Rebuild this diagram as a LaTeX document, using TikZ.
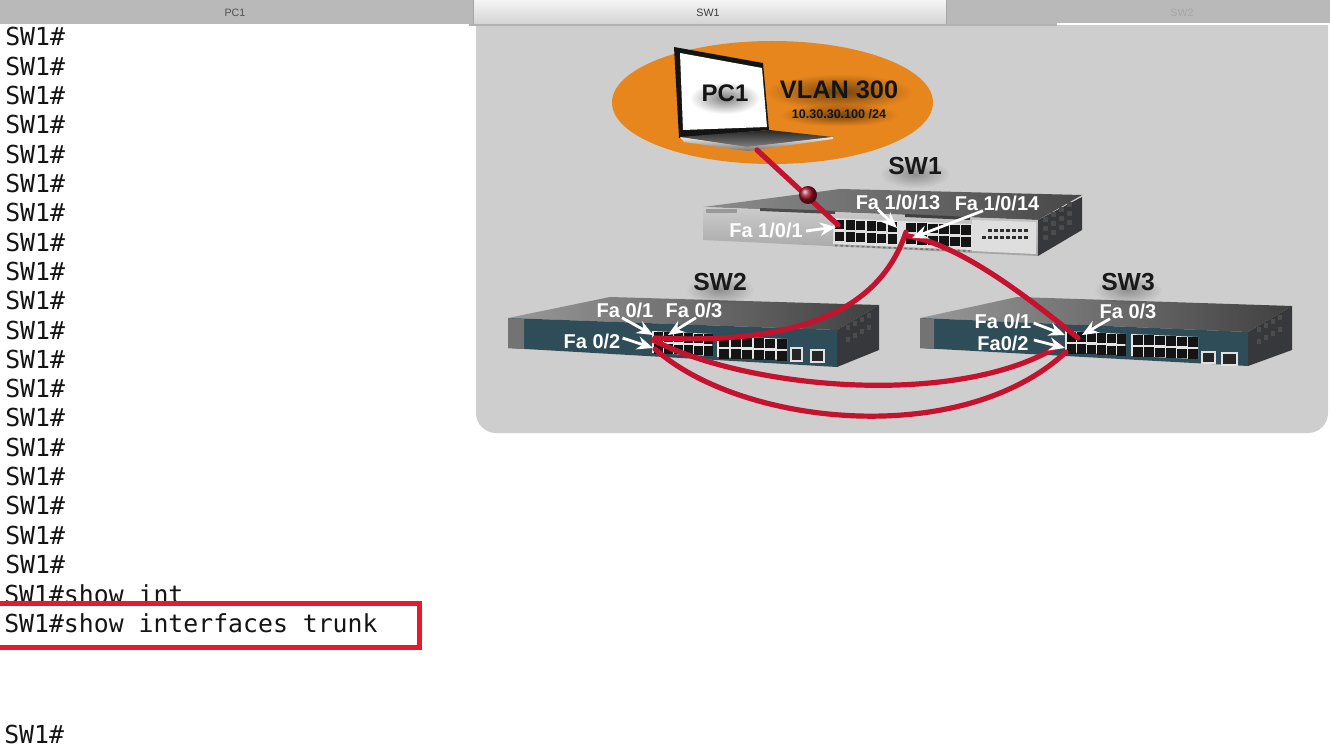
\documentclass[tikz,border=0pt]{standalone}
\usepackage{fontspec}
\setmainfont{Liberation Sans}
\newfontfamily\termfont{DejaVu Sans Mono}
\usetikzlibrary{arrows.meta,fadings}
\tikzfading[name=softedge,inner color=transparent!0,outer color=transparent!100]
\definecolor{panelgray}{HTML}{CECECE}
\definecolor{tabgray}{HTML}{B9B9B9}
\definecolor{vlanorange}{HTML}{E8861E}
\definecolor{cablered}{HTML}{C4122F}
\definecolor{boxred}{HTML}{E8192C}
\definecolor{teal1}{HTML}{2E4D59}
\definecolor{sidegray}{HTML}{37383B}
\tikzset{
  termline/.style={anchor=base west,inner sep=0pt,font=\termfont\fontsize{18.6}{20}\selectfont,text=black!92},
  tablabel/.style={inner sep=0pt,font=\fontsize{8}{9}\selectfont},
  swname/.style={inner sep=0pt,font=\bfseries\fontsize{18.5}{22}\selectfont,text=black!90},
  portlabel/.style={inner sep=0pt,font=\bfseries\fontsize{15}{17}\selectfont,text=white},
  cable/.style={draw=cablered,line width=3.9pt,line cap=round},
  callout/.style={draw=white,line width=2.1pt,-{Stealth[length=12pt,width=10pt]}},
  softshadow/.style={fill=black,opacity=.5,path fading=softedge},
  softshadowB/.style={fill=black,opacity=.3,path fading=softedge},
}
% \portrows{x0}{y0}{columns}{pitch}{rows}{slope}
\newcommand{\portrows}[6]{%
  \foreach \cc in {1,...,#3}{\foreach \rr in {1,...,#5}{%
    \pgfmathsetmacro{\px}{#1+(\cc-1)*#4}%
    \pgfmathsetmacro{\py}{#2+(\rr-1)*12+(\cc-1)*#4*#6}%
    \fill[black!92] (\px,\py) rectangle ++(#4-1.5,9.5);
  }}}
\begin{document}
\begin{tikzpicture}[x=0.75pt,y=-0.75pt]
\useasboundingbox (0,0) rectangle (1330,752);
\fill[white] (0,0) rectangle (1330,752);
% tab bar
\fill[tabgray] (0,0) rectangle (473,24);
\fill[tabgray] (946,0) rectangle (1330,24);
\shade[top color=white!96!black,bottom color=black!17] (473,0) rectangle (946,24);
\draw[black!35,line width=.6pt] (473,0) -- (473,24);
\draw[black!35,line width=.6pt] (946,0) -- (946,24);
\node[tablabel,text=black!68] (tabpc) at (235,13) {PC1};
\node[tablabel,text=black!78] (tabsw1) at (708,13) {SW1};
\node[tablabel,text=black!35] (tabsw2) at (1182,13) {SW2};
% panel
\fill[panelgray] (476,25) -- (1328,25) -- (1328,413) arc[start angle=0,end angle=90,radius=20] -- (496,433) arc[start angle=90,end angle=180,radius=20] -- cycle;
\draw[black!30,line width=.8pt] (469,25) -- (1057,25);
\draw[white,line width=1.5pt] (1057,24.5) -- (1330,24.5);
% terminal
\foreach \i in {0,...,18}{\node[termline] (t\i) at (5,46+29.3*\i) {SW1\#};}
\node[termline] (tint) at (4,603) {SW1\#show int};
\node[termline] (ttrunk) at (4,632) {SW1\#show interfaces trunk};
\node[termline] (tlast) at (4,743) {SW1\#};
\draw[boxred,line width=3.75pt] (-5,603.5) rectangle (419.5,647.5);
% VLAN ellipse
\fill[vlanorange] (772.5,102.5) ellipse[x radius=160.5,y radius=61.5];
% laptop
\fill[black!92] (674,47) -- (763,63) -- (769,130) -- (679,138) -- cycle;
\fill[white] (680,53) -- (762,68) -- (767,127) -- (683,130) -- cycle;
\shade[top color=black!85,bottom color=black!50] (680,137) -- (769,130) -- (833,137) -- (747,147) -- cycle;
\shade[top color=black!8,bottom color=black!55] (680,137) -- (747,147) -- (833,137) -- (833,139) -- (748,151) -- (684,142) -- cycle;
\fill[softshadow] (690,82) rectangle (760,114);
\node[inner sep=0pt,font=\bfseries\fontsize{18}{20}\selectfont,text=black!92] (pclabel) at (725,93) {PC1};
\fill[softshadow] (766,74) rectangle (912,110);
\node[inner sep=0pt,font=\bfseries\fontsize{19}{21}\selectfont,text=black!92] (vlan) at (839,90) {VLAN 300};
\fill[softshadow] (780,104) rectangle (898,126);
\node[inner sep=0pt,font=\bfseries\fontsize{9.4}{11}\selectfont,text=black!92] (ip) at (839,114) {10.30.30.100 /24};
% SW1 switch
\shade[left color=black!45,right color=black!72] (703,207) -- (840,189) -- (1082,195) -- (1038,220) -- cycle;
\shade[top color=black!20,bottom color=black!36] (703,207) -- (1038,220) -- (1038,256) -- (703,240) -- cycle;
\fill[sidegray] (1038,220) -- (1082,197) -- (1082,230) -- (1038,256) -- cycle;
\fill[black!13] (972,220) -- (1036,222) -- (1036,254) -- (972,251) -- cycle;
\foreach \k in {0,...,6}{\fill[black!82] (988+\k*6,229.5) rectangle ++(4,3);}
\foreach \k in {0,...,7}{\fill[black!82] (982+\k*6,236.5) rectangle ++(4,3);}
\foreach \k in {0,...,3}{\foreach \m in {0,1,2}{\fill[black!70] (1043+\k*8,217-\k*5+\m*9) rectangle ++(5,5);}}
\fill[black!12] (833,218) -- (972,224) -- (972,250) -- (833,244) -- cycle;
\portrows{835}{220}{6}{10.5}{2}{.04}
\portrows{906}{223}{6}{11}{2}{.04}
\draw[black!55,line width=1.2pt,dash pattern=on 2pt off 2pt] (835,245.5) -- (970,251);
\fill[black!70] (760,208) -- (835,211) -- (835,214) -- (760,211) -- cycle;
\fill[black!75] (905,214) -- (970,217) -- (970,220) -- (905,217) -- cycle;
\fill[black!40] (706,209) rectangle (737,213);
% SW2 switch
\shade[left color=black!40,right color=black!75] (508,318) -- (610,297) -- (879,305) -- (837,330) -- cycle;
\fill[teal1] (508,318) -- (837,330) -- (837,367) -- (508,348) -- cycle;
\fill[sidegray] (837,330) -- (879,305) -- (879,350) -- (837,367) -- cycle;
\fill[black!55] (508,318) -- (524,319) -- (524,349) -- (508,348) -- cycle;
\foreach \k in {0,...,3}{\foreach \m in {0,1}{\fill[black!70] (846+\k*7,325-\k*4+\m*12) rectangle ++(4,5);}}
\fill[black!10] (652,331) -- (712,334) -- (712,356) -- (652,353) -- cycle;
\fill[black!10] (717,336) -- (787,339) -- (787,360) -- (717,357) -- cycle;
\portrows{654}{332}{6}{10}{2}{.04}
\portrows{719}{337}{6}{11.5}{2}{.04}
\fill[black!12] (790,347) rectangle (803,362);
\fill[black!85] (792,349) rectangle (801,360);
\fill[black!12] (810,349) rectangle (825,363);
\fill[black!85] (812,351) rectangle (823,361);
% SW3 switch
\shade[left color=black!40,right color=black!75] (920,318) -- (1017,297) -- (1292,306) -- (1248,332) -- cycle;
\fill[teal1] (920,318) -- (1248,332) -- (1248,366) -- (920,348) -- cycle;
\fill[sidegray] (1248,332) -- (1292,306) -- (1292,350) -- (1248,366) -- cycle;
\fill[black!55] (920,318) -- (934,319) -- (934,349) -- (920,348) -- cycle;
\foreach \k in {0,...,3}{\foreach \m in {0,1}{\fill[black!70] (1257+\k*7,327-\k*4+\m*12) rectangle ++(4,5);}}
\fill[black!10] (1065,331) -- (1125,334) -- (1125,355) -- (1065,352) -- cycle;
\fill[black!10] (1131,334) -- (1198,337) -- (1198,359) -- (1131,356) -- cycle;
\portrows{1067}{332}{6}{10}{2}{.04}
\portrows{1133}{335}{6}{11}{2}{.04}
\fill[black!12] (1201,351) rectangle (1216,364);
\fill[black!85] (1203,353) rectangle (1214,362);
\fill[black!12] (1221,352) rectangle (1238,366);
\fill[black!85] (1223,354) rectangle (1236,364);
% cable end points
\coordinate (pcport) at (757,150);
\coordinate (sw1a) at (838,225);
\coordinate (sw1b) at (906,232);
\coordinate (sw1c) at (908,236);
\coordinate (sw2a) at (655,338);
\coordinate (sw2b) at (653,340);
\coordinate (sw2c) at (655,349);
\coordinate (sw3a) at (1078,338);
\coordinate (sw3b) at (1060,345);
\coordinate (sw3c) at (1066,352);
% cables
\draw[cable] (pcport) -- (sw1a);
\draw[cable] (sw1b) .. controls (880,310) and (800,345) .. (sw2a);
\draw[cable] (sw1c) .. controls (960,245) and (1025,295) .. (sw3a);
\draw[cable] (sw2b) .. controls (750,390) and (960,408) .. (sw3b);
\draw[cable] (sw2c) .. controls (740,425) and (960,450) .. (sw3c);
\shade[ball color=cablered!80!black] (808,195) circle[radius=9];
% switch names
\fill[softshadowB] (880,160) rectangle (950,188);
\node[swname] (sw1) at (915,166) {SW1};
\fill[softshadowB] (686,276) rectangle (754,304);
\node[swname] (sw2) at (720,282) {SW2};
\fill[softshadowB] (1094,276) rectangle (1162,304);
\node[swname] (sw3) at (1128,282) {SW3};
% callout targets
\coordinate (c101) at (836,227);
\coordinate (c113) at (897,228);
\coordinate (c114) at (912,238);
\coordinate (c2f1) at (653,335);
\coordinate (c2f3) at (668,335);
\coordinate (c2f2) at (653,348);
\coordinate (c3f1) at (1065,335);
\coordinate (c3f2) at (1065,348);
\coordinate (c3f3) at (1082,335);
% port labels
\node[portlabel] (fa101) at (766,230) {Fa 1/0/1};
\node[portlabel] (fa113) at (898,202) {Fa 1/0/13};
\node[portlabel] (fa114) at (997,203) {Fa 1/0/14};
\node[portlabel] (s2f1) at (625,310) {Fa 0/1};
\node[portlabel] (s2f3) at (694,310) {Fa 0/3};
\node[portlabel] (s2f2) at (592,341) {Fa 0/2};
\node[portlabel] (s3f1) at (1003,321) {Fa 0/1};
\node[portlabel] (s3f2) at (1003,343) {Fa0/2};
\node[portlabel] (s3f3) at (1128,311) {Fa 0/3};
\draw[callout] (fa101.east) ++(3,1) -- (c101);
\draw[callout] (fa113.south) ++(-20,0) -- (c113);
\draw[callout] (fa114.south) ++(-14,0) -- (c114);
\draw[callout] (s2f1.south) ++(-3,0) -- (c2f1);
\draw[callout] (s2f3.south) ++(2,0) -- (c2f3);
\draw[callout] (s2f2.east) ++(2,-3) -- (c2f2);
\draw[callout] (s3f1.east) ++(2,2) -- (c3f1);
\draw[callout] (s3f2.east) ++(5,-3) -- (c3f2);
\draw[callout] (s3f3.south) ++(-18,0) -- (c3f3);
\end{tikzpicture}
\end{document}
